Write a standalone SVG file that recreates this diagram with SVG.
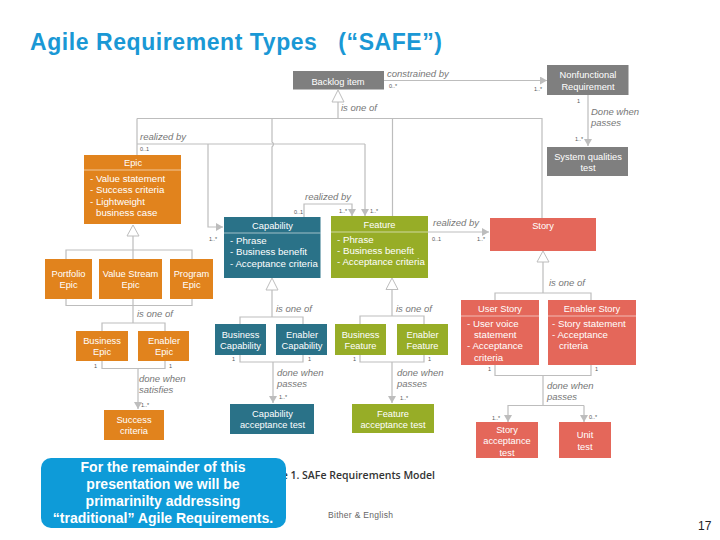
<svg xmlns="http://www.w3.org/2000/svg" width="720" height="540" viewBox="0 0 720 540">
<style>
text{font-family:"Liberation Sans",Arial,sans-serif}
.t{fill:#fff;font-size:9.300px;text-anchor:middle}
.l{fill:#fff;font-size:9.700px}
.e{fill:#777;font-size:9.500px;font-style:italic}
.m{fill:#555;font-size:5.500px}
.c{fill:none;stroke:#bdbdbd;stroke-width:1.200}
.tri{fill:#fff;stroke:#bdbdbd;stroke-width:1}
.o{fill:#e1831d}.b{fill:#2a7288}.g{fill:#97ad27}.r{fill:#e4675a}.y{fill:#7f7f7f}
.d{stroke:#fff;stroke-width:.7;opacity:.8}
</style>
<defs>
<marker id="a" markerWidth="9" markerHeight="8" refX="7" refY="4" orient="auto" markerUnits="userSpaceOnUse"><path d="M0 0L7 4L0 8z" fill="#bdbdbd"/></marker>
</defs>
<rect width="720" height="540" fill="#fff"/>
<text id="title" x="30" y="49.500" font-size="23" font-weight="bold" fill="#1a98d5" xml:space="preserve" textLength="412">Agile Requirement Types   (“SAFE”)</text>
<g id="connectors">
<path class="c" marker-end="url(#a)" d="M384 80.500H547"/>
<path class="c" marker-end="url(#a)" d="M588 95V146"/>
<path class="c" d="M338 102V118.500M137 118.500H542V218M137 118.500V155M392.500 118.500V216M272 118.500V142Q275 144 272 147V217"/>
<path class="c" d="M137 144H365"/>
<path class="c" marker-end="url(#a)" d="M365 144V216"/>
<path class="c" marker-end="url(#a)" d="M208 144V227H223"/>
<path class="c" marker-end="url(#a)" d="M304 217V204H352V216"/>
<path class="c" marker-end="url(#a)" d="M428 232H489"/>
<path class="c" d="M133 236V323M66 259V250H192V259M66 299V305.500H192V299M102 331V323H165V331M102 361V368.500H165V361"/>
<path class="c" marker-end="url(#a)" d="M138 368.500V409"/>
<path class="c" d="M272 290V317M240 324V317H303V324M240 355V362H303V355"/>
<path class="c" marker-end="url(#a)" d="M273 362V403"/>
<path class="c" d="M392 290V316M360 324V316H424V324M360 355V362H424V355"/>
<path class="c" marker-end="url(#a)" d="M392 362V403"/>
<path class="c" d="M543 262V293M495 300V293H591V300M495 365V375.500H591V365M543 375.500V405"/>
<path class="c" marker-end="url(#a)" d="M584 405.500H508V422"/>
<path class="c" marker-end="url(#a)" d="M584 405.500V422"/>
<path class="tri" d="M338 90L344 102H332z"/>
<path class="tri" d="M133 225L139 236H127z"/>
<path class="tri" d="M272 278L278 290H266z"/>
<path class="tri" d="M392 278L398 289.500H386z"/>
<path class="tri" d="M543 251L549 262H537z"/>
</g>
<g id="edge-labels">
<text class="e" x="387" y="77">constrained by</text><text class="m" x="389" y="88">0..*</text><text class="m" x="534" y="91">1..*</text>
<text class="e" x="341" y="111">is one of</text>
<text class="m" x="577" y="103">1</text><text class="e" x="591" y="115">Done when</text><text class="e" x="591" y="126">passes</text><text class="m" x="575" y="141">1..*</text>
<text class="e" x="140" y="140">realized by</text><text class="m" x="140" y="151">0..1</text>
<text class="m" x="209" y="241">1..*</text>
<text class="e" x="305" y="200">realized by</text><text class="m" x="294" y="214">0..1</text><text class="m" x="339" y="213">1..*</text><text class="m" x="370" y="213">1..*</text>
<text class="e" x="433" y="226">realized by</text><text class="m" x="432" y="241">0..1</text><text class="m" x="477" y="241">1..*</text>
<text class="e" x="137" y="317">is one of</text><text class="e" x="276" y="312">is one of</text><text class="e" x="396" y="312">is one of</text><text class="e" x="549" y="286">is one of</text>
<text class="m" x="94" y="368">1</text><text class="m" x="169" y="368">1</text><text class="e" x="139" y="382">done when</text><text class="e" x="139" y="393">satisfies</text><text class="m" x="141" y="407">1..*</text>
<text class="m" x="232" y="361">1</text><text class="m" x="308" y="361">1</text><text class="e" x="277" y="376">done when</text><text class="e" x="277" y="387">passes</text><text class="m" x="279" y="399">1..*</text>
<text class="m" x="353" y="361">1</text><text class="m" x="428" y="361">1</text><text class="e" x="397" y="376">done when</text><text class="e" x="397" y="387">passes</text><text class="m" x="400" y="400">1..*</text>
<text class="m" x="488" y="371">1</text><text class="m" x="595" y="371">1</text><text class="e" x="547" y="389">done when</text><text class="e" x="547" y="400">passes</text><text class="m" x="492" y="420">1..*</text><text class="m" x="589" y="419">0..*</text>
</g>
<g id="backlog-item"><rect class="y" x="293" y="71" width="91" height="18.500"/><text class="t" x="338" y="85">Backlog item</text></g>
<g id="nonfunctional"><rect class="y" x="547" y="65" width="81.500" height="30"/><text class="t" x="588" y="78">Nonfunctional</text><text class="t" x="588" y="90">Requirement</text></g>
<g id="system-qualities"><rect class="y" x="547" y="147" width="81" height="29"/><text class="t" x="588" y="160">System qualities</text><text class="t" x="588" y="171">test</text></g>
<g id="epic"><rect class="o" x="84" y="155" width="97" height="69"/><line class="d" x1="84" y1="170" x2="181" y2="170"/><text class="t" x="133" y="166">Epic</text><text class="l" x="90" y="182">- Value statement</text><text class="l" x="90" y="193">- Success criteria</text><text class="l" x="90" y="205">- Lightweight</text><text class="l" x="96" y="216">business case</text></g>
<g id="portfolio-epic"><rect class="o" x="45" y="259" width="47" height="40"/><text class="t" x="68.500" y="277">Portfolio</text><text class="t" x="68.500" y="288">Epic</text></g>
<g id="value-stream-epic"><rect class="o" x="99" y="259" width="63" height="40"/><text class="t" x="130.500" y="277">Value Stream</text><text class="t" x="130.500" y="288">Epic</text></g>
<g id="program-epic"><rect class="o" x="170" y="259" width="43" height="40"/><text class="t" x="191.500" y="277">Program</text><text class="t" x="191.500" y="288">Epic</text></g>
<g id="business-epic"><rect class="o" x="76" y="331" width="52" height="30"/><text class="t" x="102" y="344">Business</text><text class="t" x="102" y="355">Epic</text></g>
<g id="enabler-epic"><rect class="o" x="138" y="331" width="51" height="30"/><text class="t" x="164" y="344">Enabler</text><text class="t" x="164" y="355">Epic</text></g>
<g id="success-criteria"><rect class="o" x="104" y="410" width="60" height="30"/><text class="t" x="134" y="423">Success</text><text class="t" x="134" y="434">criteria</text></g>
<g id="capability"><rect class="b" x="224" y="217" width="96.500" height="61"/><line class="d" x1="224" y1="233" x2="320.500" y2="233"/><text class="t" x="272.500" y="229">Capability</text><text class="l" x="230" y="244">- Phrase</text><text class="l" x="230" y="255">- Business benefit</text><text class="l" x="230" y="267">- Acceptance criteria</text></g>
<g id="business-capability"><rect class="b" x="215" y="324" width="51" height="31"/><text class="t" x="240.500" y="338">Business</text><text class="t" x="240.500" y="349">Capability</text></g>
<g id="enabler-capability"><rect class="b" x="276" y="324" width="51" height="31"/><text class="t" x="302" y="338">Enabler</text><text class="t" x="302" y="349">Capability</text></g>
<g id="capability-test"><rect class="b" x="230" y="404" width="84" height="30"/><text class="t" x="272.500" y="417">Capability</text><text class="t" x="272.500" y="428">acceptance test</text></g>
<g id="feature"><rect class="g" x="331" y="216" width="97" height="62"/><line class="d" x1="331" y1="232" x2="428" y2="232"/><text class="t" x="379.500" y="228">Feature</text><text class="l" x="337" y="243">- Phrase</text><text class="l" x="337" y="254">- Business benefit</text><text class="l" x="337" y="265">- Acceptance criteria</text></g>
<g id="business-feature"><rect class="g" x="335" y="324" width="51" height="31"/><text class="t" x="360.500" y="338">Business</text><text class="t" x="360.500" y="349">Feature</text></g>
<g id="enabler-feature"><rect class="g" x="397" y="324" width="51" height="31"/><text class="t" x="422.500" y="338">Enabler</text><text class="t" x="422.500" y="349">Feature</text></g>
<g id="feature-test"><rect class="g" x="352" y="404" width="82" height="29"/><text class="t" x="393" y="417">Feature</text><text class="t" x="393" y="428">acceptance test</text></g>
<g id="story"><rect class="r" x="490" y="218" width="106" height="33"/><text class="t" x="543" y="229">Story</text></g>
<g id="user-story"><rect class="r" x="461" y="300" width="78" height="65"/><line class="d" x1="461" y1="316" x2="539" y2="316"/><text class="t" x="500" y="312">User Story</text><text class="l" x="467" y="327">- User voice</text><text class="l" x="474" y="338">statement</text><text class="l" x="467" y="349">- Acceptance</text><text class="l" x="474" y="361">criteria</text></g>
<g id="enabler-story"><rect class="r" x="548" y="300" width="88" height="65"/><line class="d" x1="548" y1="316" x2="636" y2="316"/><text class="t" x="592" y="312">Enabler Story</text><text class="l" x="552" y="327">- Story statement</text><text class="l" x="552" y="338">- Acceptance</text><text class="l" x="559" y="349">criteria</text></g>
<g id="story-test"><rect class="r" x="476" y="422" width="62" height="36"/><text class="t" x="507" y="433">Story</text><text class="t" x="507" y="444">acceptance</text><text class="t" x="507" y="456">test</text></g>
<g id="unit-test"><rect class="r" x="559" y="422" width="52" height="36"/><text class="t" x="585" y="438">Unit</text><text class="t" x="585" y="450">test</text></g>
<text id="caption" x="435" y="478.500" font-size="10.500" font-weight="600" fill="#333" text-anchor="end" style="font-family:'Open Sans',sans-serif">Figure 1. SAFe Requirements Model</text>
<g id="callout"><rect x="41" y="458" width="245" height="70" rx="10" fill="#0e9bd8"/>
<g fill="#fff" font-size="14" font-weight="bold" text-anchor="middle"><text x="163" y="472">For the remainder of this</text><text x="163" y="489">presentation we will be</text><text x="163" y="506">primarinilty addressing</text><text x="163" y="523">“traditional” Agile Requirements.</text></g></g>
<text id="footer" x="328" y="518" font-size="8.500" fill="#666" letter-spacing=".3">Bither &amp; English</text>
<text id="page" x="698" y="530" font-size="12" fill="#222">17</text>
</svg>
